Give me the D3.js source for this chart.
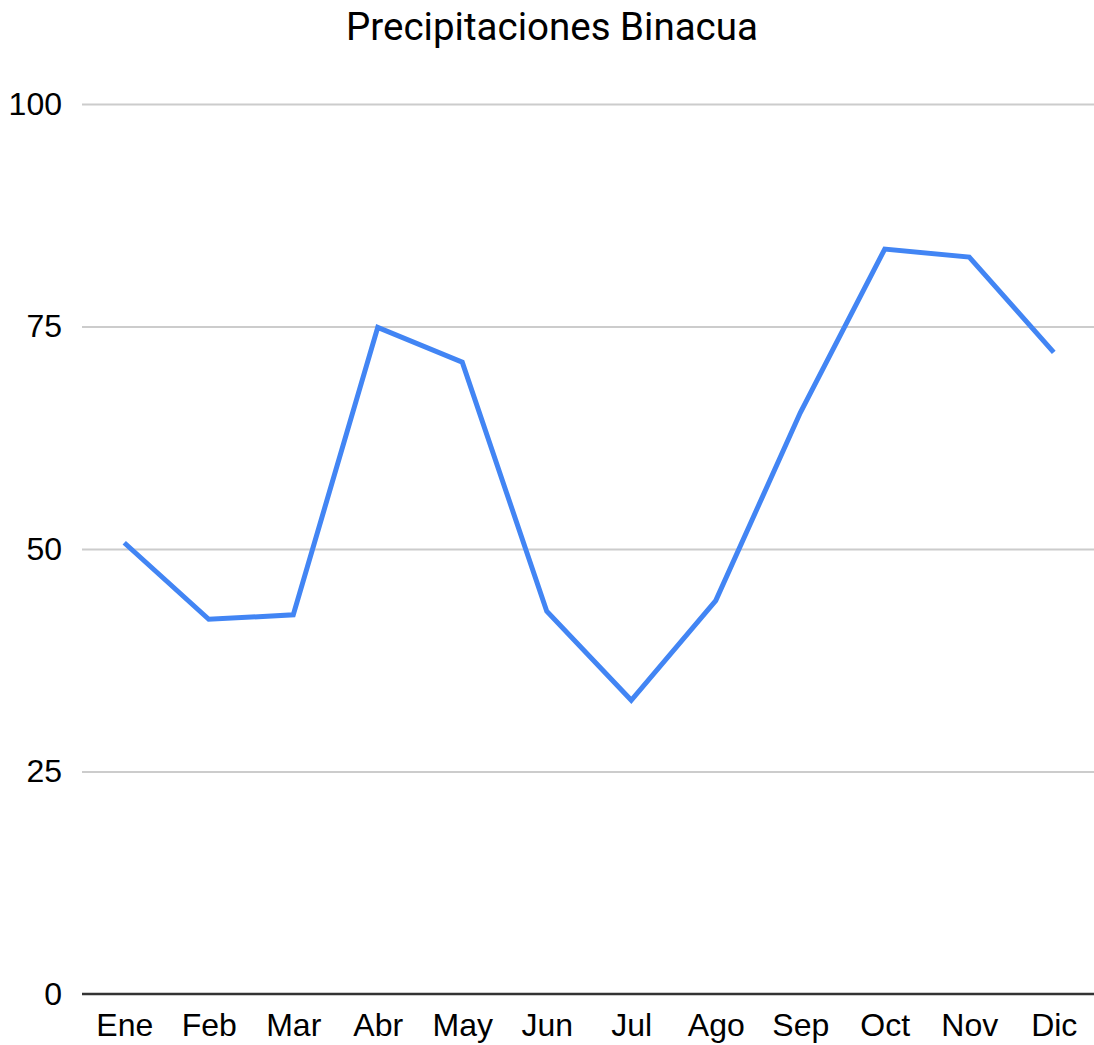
<!DOCTYPE html>
<html lang="es">
<head>
<meta charset="UTF-8">
<title>Precipitaciones Binacua</title>
<script src="https://d3js.org/d3.v7.min.js"></script>
<style>
  body { margin: 0; background: #fff; }
  svg { display: block; }
</style>
</head>
<body>
<div id="chart"></div>
<script>
var months = ['Ene', 'Feb', 'Mar', 'Abr', 'May', 'Jun', 'Jul', 'Ago', 'Sep', 'Oct', 'Nov', 'Dic'];
var rainfall = [50.7, 42.1, 42.6, 74.9, 71.0, 43.0, 33.0, 44.2, 65.3, 83.7, 82.8, 72.1];
var yTicks = [0, 25, 50, 75, 100];
var title = 'Precipitaciones Binacua';

var W = 1094, H = 1045;
var margin = { top: 104, right: -2, bottom: 51, left: 82 };
var width = W - margin.left - margin.right,
    height = H - margin.top - margin.bottom;

var svg = d3.select('#chart').append('svg')
  .attr('width', W)
  .attr('height', H);

svg.append('text')
  .attr('x', 552)
  .attr('y', 40)
  .attr('text-anchor', 'middle')
  .style('font-family', 'Roboto, sans-serif')
  .style('font-size', '38.5px')
  .style('fill', '#000')
  .text(title);

var g = svg.append('g')
  .attr('transform', 'translate(' + margin.left + ',' + margin.top + ')');

var x = d3.scalePoint()
  .domain(months)
  .range([0, width])
  .padding(0.5);

var y = d3.scaleLinear()
  .domain([0, 100])
  .range([height, 0]);

// gridlines
var yAxis = d3.axisLeft(y)
  .tickValues(yTicks)
  .tickSize(-width)
  .tickPadding(20);

var yg = g.append('g').call(yAxis);
yg.select('.domain').remove();
yg.selectAll('.tick line')
  .attr('stroke', '#cccccc')
  .attr('stroke-width', 2);
yg.selectAll('.tick text')
  .style('font-family', '"Liberation Sans", Arial, sans-serif')
  .style('font-size', '32px')
  .style('fill', '#000');
yg.selectAll('.tick').filter(function(d) { return d === 0; }).select('line').remove();

// x axis baseline
var xAxis = d3.axisBottom(x)
  .tickSize(0)
  .tickPadding(19);

var xg = g.append('g')
  .attr('transform', 'translate(0,' + height + ')')
  .call(xAxis);
xg.select('.domain')
  .attr('stroke', '#333333')
  .attr('stroke-width', 2.5)
  .attr('d', 'M0,0H' + width);
xg.selectAll('.tick text')
  .style('font-family', '"Liberation Sans", Arial, sans-serif')
  .style('font-size', '32px')
  .style('fill', '#000');

var line = d3.line()
  .x(function(d, i) { return x(months[i]); })
  .y(function(d) { return y(d); });

g.append('path')
  .datum(rainfall)
  .attr('fill', 'none')
  .attr('stroke', '#4285f4')
  .attr('stroke-width', 5)
  .attr('stroke-linejoin', 'miter')
  .attr('d', line);
</script>
</body>
</html>
